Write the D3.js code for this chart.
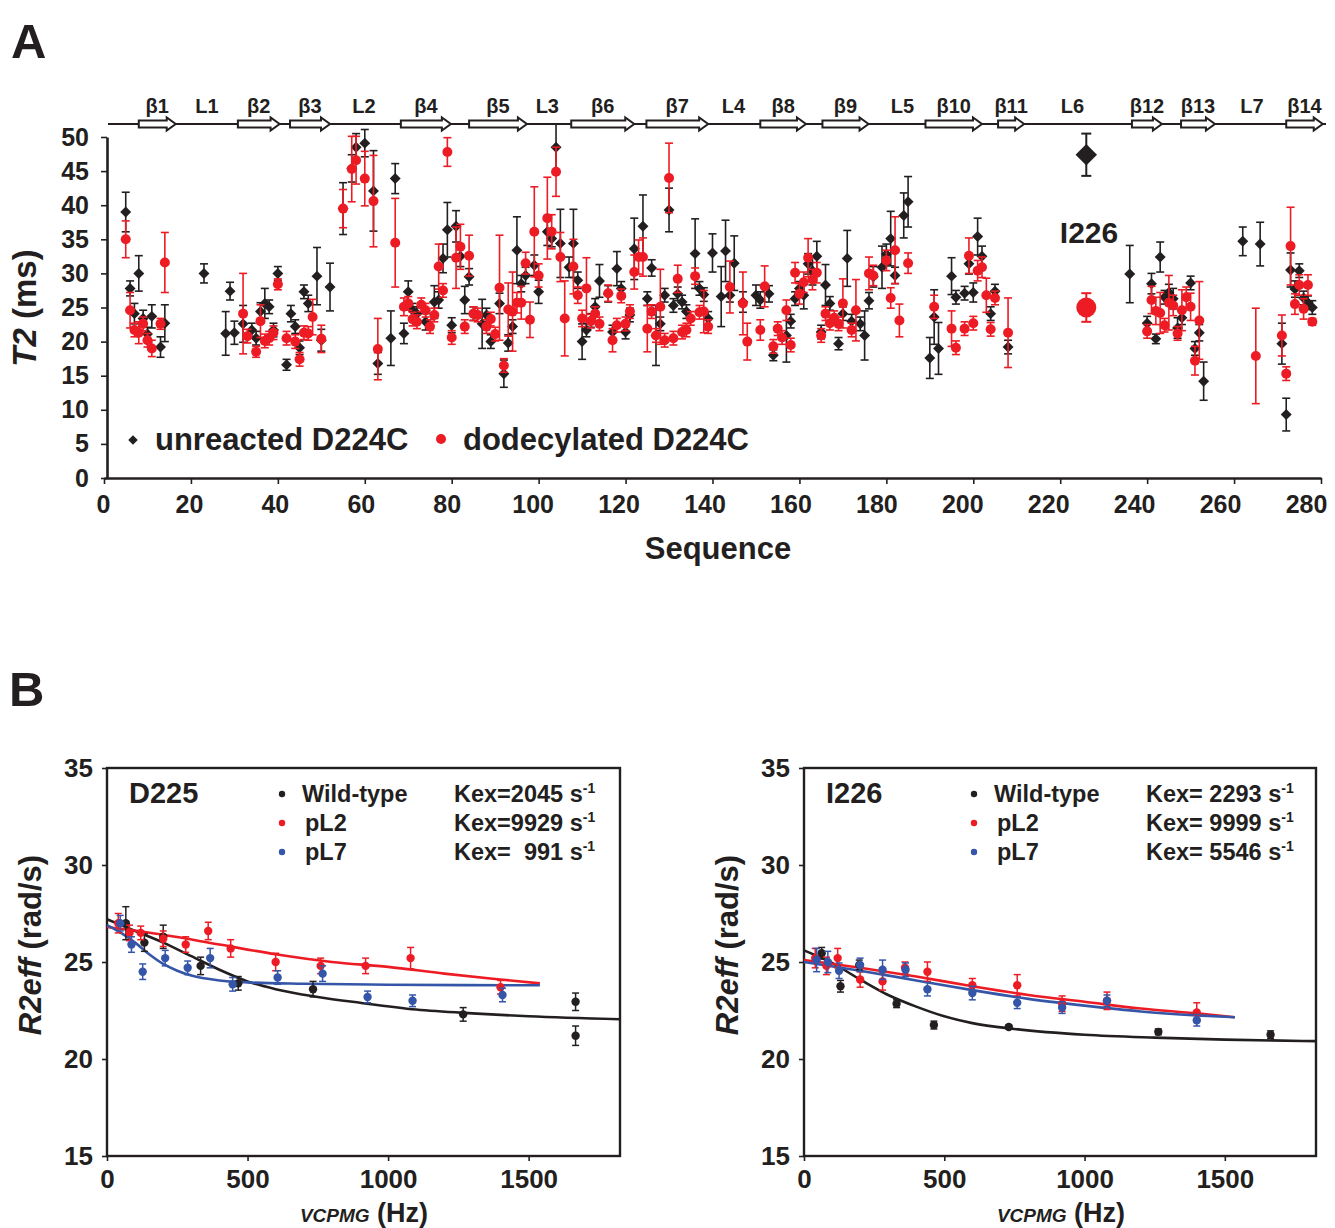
<!DOCTYPE html>
<html>
<head>
<meta charset="utf-8">
<script src="https://cdn.jsdelivr.net/npm/d3@7"></script>
<style>
body { margin: 0; background: #fff; }
text { font-family: "Liberation Sans", Arial, sans-serif; font-weight: bold; fill: #231f20; }
</style>
</head>
<body>
<div id="chart"></div>
<script>
// ---------------- Panel A: secondary structure ----------------
var strandNames = ["β1","β2","β3","β4","β5","β6","β7","β8","β9","β10","β11","β12","β13","β14"];
var strandStart = [8, 30.8, 42.8, 68.3, 84, 107.5, 124.8, 151, 165.3, 189, 205.7, 236.5, 247.8, 272];
var strandEnd   = [16.5, 40.4, 52, 79.8, 97.3, 122, 139, 161.5, 175.9, 202, 211.7, 243.4, 255.6, 280.4];
var loopNames = ["L1","L2","L3","L4","L5","L6","L7"];
var loopPos   = [23.7, 59.8, 102, 144.8, 183.7, 222.8, 264.1];

// ---------------- Panel A: T2 per residue ----------------
var unreactedSeq = [5,6,7,8,9,10,11,13,14,23,28,29,30,32,34,35,36,37,38,39,40,42,43,44,45,46,47,49,50,52,
  55,57,58,60,62,63,66,67,69,70,71,72,74,76,77,78,79,80,81,82,83,84,85,87,88,89,91,92,93,94,95,96,97,99,100,
  102,103,104,105,107,108,109,110,111,112,113,114,116,117,118,119,120,121,122,124,125,126,127,128,129,130,131,132,133,134,
  136,137,138,139,140,142,143,144,145,147,150,151,153,154,157,158,159,160,161,162,163,164,165,166,167,169,170,171,172,174,
  175,176,177,179,180,181,182,184,185,190,191,192,195,196,198,199,200,201,202,204,205,208,
  236,240,241,242,243,244,245,246,247,248,250,251,252,253,262,266,271,272,273,274,275,276,277,278];
var unreactedT2 = [39.0,27.8,24.1,30.0,23.4,21.1,23.7,19.2,22.7,30.0,21.2,27.4,21.3,22.6,21.7,20.5,24.4,25.6,25.1,21.7,30.0,16.6,24.1,22.2,19.1,27.3,25.6,29.6,20.2,28.0,
  39.5,45.4,48.5,49.1,42.1,16.8,20.5,43.9,21.2,27.3,24.6,24.1,22.9,25.8,26.1,32.2,36.4,22.4,36.9,32.5,26.1,29.5,24.1,22.6,23.9,20.0,25.6,15.3,19.8,22.2,33.4,28.5,29.7,31.2,27.3,
  36.1,35.1,48.5,34.4,30.9,34.4,29.0,20.0,21.7,23.1,25.1,28.9,27.0,21.4,30.7,27.8,21.4,23.9,33.6,36.9,26.3,30.8,20.9,22.6,26.8,39.3,25.3,27.0,25.8,24.4,
  32.9,27.8,26.9,23.4,33.0,26.6,33.3,26.8,31.5,25.8,26.8,26.1,27.0,18.0,20.9,23.0,26.3,27.8,26.8,31.4,30.4,32.5,21.4,28.3,25.6,19.7,24.1,32.2,23.0,22.6,
  20.9,26.0,29.5,30.9,32.8,35.1,29.7,38.5,40.5,17.6,23.6,19.0,29.6,26.5,27.1,31.4,27.2,35.4,32.5,24.1,27.4,19.2,
  29.9,22.7,28.5,20.4,32.4,26.5,27.2,26.3,22.0,23.5,28.6,19.0,21.3,14.2,34.7,34.3,19.7,9.3,30.5,27.7,30.4,26.4,25.7,25.0];
var unreactedErr = [2.9,1.1,1.5,2.6,1.2,1.0,1.7,1.5,2.7,1.4,3.2,1.3,1.7,2.7,1.0,1.0,1.3,2.2,1.0,1.0,1.0,0.8,1.2,1.0,1.0,1.0,1.2,4.2,1.6,3.5,
  3.8,2.0,2.0,2.0,5.9,1.6,4.0,2.2,1.5,1.6,1.0,1.0,1.2,2.4,1.2,2.1,4.0,1.1,2.3,1.5,2.0,1.2,1.0,3.6,1.0,1.0,1.5,2.0,1.2,1.0,4.9,1.2,1.2,1.5,1.7,
  2.0,1.2,3.4,5.0,1.5,5.0,1.2,2.6,1.0,1.0,1.2,2.4,1.2,1.0,2.5,1.0,1.0,1.0,4.5,4.6,1.0,1.2,4.4,1.0,1.0,3.2,1.0,1.0,1.0,1.0,
  5.1,1.0,1.0,1.0,2.8,4.4,4.5,1.0,4.0,1.5,1.5,1.2,1.2,0.8,3.9,1.0,1.0,1.0,2.0,1.5,2.1,2.2,1.0,3.0,1.0,0.9,1.0,4.1,1.0,1.0,
  3.6,1.2,1.5,3.1,1.5,4.0,1.2,3.3,3.7,3.0,4.0,3.8,2.7,1.0,1.0,1.5,1.4,2.7,1.5,1.0,1.0,1.0,
  4.2,1.0,1.5,0.7,2.2,1.0,1.2,1.5,1.5,1.0,1.0,1.0,1.2,2.8,2.1,3.2,3.0,2.4,2.5,1.2,1.0,1.0,1.0,1.0];

var dodecylSeq = [5,6,7,8,9,10,11,13,14,32,33,35,36,37,38,39,40,42,44,45,46,47,48,50,
  55,57,58,60,62,63,67,69,70,71,72,73,74,75,76,77,78,79,80,81,82,83,84,85,86,88,89,90,91,92,93,94,95,96,97,98,99,100,
  102,103,104,105,106,108,109,110,111,112,113,114,116,117,118,119,120,121,122,123,124,125,126,127,128,129,130,131,132,133,134,135,136,137,138,139,
  144,147,148,151,152,154,155,156,157,158,159,160,161,162,163,164,165,166,167,168,169,170,172,173,176,177,180,181,182,183,185,
  191,195,196,198,199,200,201,202,203,204,205,208,
  240,241,242,243,244,245,246,247,248,249,250,251,252,265,271,272,273,274,275,276,277,278];
var dodecylT2 = [35.0,24.6,21.7,21.3,22.6,20.2,19.0,22.6,31.6,24.1,20.8,18.5,23.0,20.1,20.5,21.3,28.4,20.5,20.0,17.4,21.3,21.2,23.6,20.4,
  39.5,45.3,46.6,43.9,40.6,18.9,34.5,25.1,25.6,23.3,22.9,25.4,24.6,22.2,23.9,31.0,27.5,47.8,20.6,32.3,33.9,22.2,32.6,24.1,23.9,22.2,23.3,21.1,27.9,16.5,24.7,24.4,25.7,25.7,31.5,23.2,36.1,29.7,
  38.1,36.1,44.9,32.4,23.4,31.0,26.8,23.4,27.8,23.0,24.1,22.6,27.1,20.2,22.4,26.7,22.6,24.4,30.2,32.4,32.4,21.9,24.4,20.9,25.1,20.2,44.0,20.5,29.2,21.4,21.7,23.4,29.6,24.3,24.4,22.2,
  28.0,25.6,20.0,21.7,28.1,19.3,21.9,20.6,24.6,19.5,30.1,27.0,28.7,32.3,29.1,30.1,20.9,24.1,22.7,23.5,22.6,25.6,21.7,24.6,30.0,29.7,31.9,26.4,33.4,23.1,31.5,
  25.1,21.9,19.1,21.9,32.6,22.7,30.4,30.9,26.8,21.8,26.4,21.3,
  21.5,26.1,24.5,24.2,22.4,25.7,25.3,21.2,24.6,26.5,25.1,17.2,23.1,17.9,20.9,15.3,34.0,25.5,28.3,24.8,28.3,22.9];
var dodecylErr = [2.7,2.6,1.0,1.6,1.0,1.0,1.2,0.8,4.4,5.9,1.0,0.8,2.4,1.0,1.0,1.0,0.8,1.0,1.0,1.0,1.0,1.0,2.6,2.0,
  2.8,4.8,3.5,4.0,6.7,4.5,6.5,1.3,1.0,1.0,1.0,1.0,1.0,1.0,1.0,3.3,1.0,2.1,1.0,4.5,3.3,1.0,3.0,1.0,1.0,1.0,1.0,1.0,7.7,1.0,3.9,5.8,1.5,2.4,1.6,2.6,6.6,1.7,
  6.0,2.5,3.6,3.6,5.5,4.0,1.2,1.2,4.5,1.0,1.0,1.0,1.2,1.7,1.0,1.0,1.0,1.0,2.5,2.5,2.8,3.4,1.0,1.0,5.5,1.0,5.1,1.0,2.0,1.0,1.0,1.0,1.2,1.0,3.1,1.0,
  3.8,4.6,2.7,1.5,3.0,1.0,1.0,1.0,1.5,1.0,1.5,1.5,1.5,2.8,1.5,1.5,1.0,1.0,1.0,1.0,1.0,3.6,1.0,4.5,2.4,1.5,1.5,1.5,4.9,2.4,1.5,
  1.7,2.6,1.0,1.0,2.6,1.0,1.5,1.5,2.5,1.0,1.0,5.1,
  1.0,2.0,2.0,3.0,1.0,4.0,1.5,1.0,3.0,1.5,2.0,2.1,5.7,7.0,3.0,1.0,5.7,1.5,1.5,1.5,1.5,0.5];

// highlighted residue I226
var highlightSeq = 226;
var highlightUnreacted = [47.4, 3.1];
var highlightDodecyl = [25.0, 2.1];

// ---------------- Panel B: relaxation dispersion ----------------
var d225WtHz  = [67, 133, 200, 333, 467, 733, 1267, 1667, 1667];
var d225WtR2  = [27.0, 26.0, 26.3, 24.8, 23.9, 23.6, 22.3, 22.95, 21.2];
var d225WtErr = [0.85, 0.45, 0.6, 0.45, 0.35, 0.4, 0.35, 0.45, 0.5];
var d225L2Hz  = [40, 80, 120, 200, 280, 360, 440, 600, 760, 920, 1080, 1400];
var d225L2R2  = [27.0, 26.5, 26.5, 26.2, 25.9, 26.6, 25.7, 25.0, 24.8, 24.8, 25.2, 23.7];
var d225L2Err = [0.5, 0.4, 0.35, 0.4, 0.4, 0.45, 0.45, 0.45, 0.4, 0.4, 0.55, 0.35];
var d225L7Hz  = [47, 87, 127, 207, 287, 367, 447, 607, 767, 927, 1087, 1407];
var d225L7R2  = [27.0, 25.9, 24.5, 25.2, 24.7, 25.2, 23.85, 24.2, 24.4, 23.2, 23.0, 23.3];
var d225L7Err = [0.4, 0.4, 0.4, 0.4, 0.35, 0.5, 0.35, 0.35, 0.4, 0.3, 0.3, 0.35];
// fitted curves
var d225WtFitHz = [0, 100, 200, 300, 400, 500, 600, 750, 900, 1100, 1300, 1500, 1825];
var d225WtFitR2 = [27.2, 26.6, 26.0, 25.3, 24.6, 24.0, 23.6, 23.2, 22.9, 22.55, 22.35, 22.2, 22.05];
var d225L2FitHz = [0, 200, 400, 600, 800, 1000, 1200, 1400, 1540];
var d225L2FitR2 = [26.8, 26.4, 25.9, 25.4, 25.0, 24.75, 24.4, 24.1, 23.9];
var d225L7FitHz = [0, 50, 100, 150, 200, 250, 300, 400, 500, 700, 1000, 1540];
var d225L7FitR2 = [26.9, 26.5, 26.0, 25.4, 24.9, 24.55, 24.3, 24.05, 23.95, 23.88, 23.83, 23.8];

var i226WtHz  = [63, 130, 197, 330, 463, 730, 1263, 1663];
var i226WtR2  = [25.45, 23.75, 24.85, 22.85, 21.75, 21.65, 21.4, 21.25];
var i226WtErr = [0.3, 0.3, 0.25, 0.2, 0.2, 0.1, 0.15, 0.2];
var i226L2Hz  = [40, 80, 120, 200, 280, 360, 440, 600, 760, 920, 1080, 1400];
var i226L2R2  = [25.2, 24.8, 25.2, 24.1, 24.0, 24.7, 24.5, 23.8, 23.8, 22.85, 23.0, 22.4];
var i226L2Err = [0.5, 0.45, 0.5, 0.4, 0.45, 0.3, 0.5, 0.35, 0.55, 0.4, 0.45, 0.5];
var i226L7Hz  = [45, 85, 125, 200, 280, 362, 440, 600, 760, 920, 1080, 1400];
var i226L7R2  = [25.1, 25.0, 24.55, 24.85, 24.6, 24.6, 23.6, 23.4, 22.9, 22.65, 23.0, 22.0];
var i226L7Err = [0.6, 0.55, 0.4, 0.35, 0.5, 0.35, 0.35, 0.35, 0.3, 0.3, 0.3, 0.3];
var i226WtFitHz = [0, 100, 200, 300, 400, 500, 600, 750, 1000, 1250, 1500, 1825];
var i226WtFitR2 = [25.6, 24.95, 24.1, 23.3, 22.7, 22.2, 21.85, 21.55, 21.25, 21.1, 21.0, 20.92];
var i226L2FitHz = [0, 200, 400, 600, 800, 1000, 1200, 1400, 1536];
var i226L2FitR2 = [25.1, 24.7, 24.25, 23.75, 23.3, 22.95, 22.6, 22.35, 22.15];
var i226L7FitHz = [0, 200, 400, 600, 800, 1000, 1200, 1400, 1536];
var i226L7FitR2 = [25.0, 24.55, 24.05, 23.55, 23.1, 22.75, 22.45, 22.25, 22.15];

var black = "#231f20", red = "#ed1c24", blue = "#3556a8";

function zip3(a, b, c) { return a.map(function (v, i) { return {x: v, y: b[i], e: c ? c[i] : 0}; }); }
function zip2(a, b) { return a.map(function (v, i) { return {x: v, y: b[i]}; }); }

var svg = d3.select("#chart").append("svg")
    .attr("width", 1335)
    .attr("height", 1228);

// panel letters
svg.append("text").attr("x", 11).attr("y", 58).style("font-size", "49px").text("A");
svg.append("text").attr("x", 9).attr("y", 706).style("font-size", "49px").text("B");

// ======================= Panel A =======================
var xA = d3.scaleLinear().domain([0, 280]).range([104, 1321]);
var yA = d3.scaleLinear().domain([0, 50]).range([478, 137]);

// secondary structure track
var ssY = 124;
svg.append("line")
    .attr("x1", 108).attr("x2", 1326)
    .attr("y1", ssY).attr("y2", ssY)
    .attr("stroke", black).attr("stroke-width", 2.2);

var strands = strandNames.map(function (n, i) { return {name: n, s: strandStart[i], e: strandEnd[i]}; });
svg.append("g").selectAll("polygon")
  .data(strands)
  .enter()
  .append("polygon")
    .attr("points", function (d) {
      var a = xA(d.s), b = xA(d.e), h = 9;
      return [[a, ssY - 3.5], [b - h, ssY - 3.5], [b - h, ssY - 6.5], [b, ssY],
              [b - h, ssY + 6.5], [b - h, ssY + 3.5], [a, ssY + 3.5]].join(" ");
    })
    .attr("fill", "#fff")
    .attr("stroke", black)
    .attr("stroke-width", 2);

svg.append("g").selectAll("text")
  .data(strands)
  .enter()
  .append("text")
    .attr("x", function (d) { return xA((d.s + d.e) / 2); })
    .attr("y", 113)
    .attr("text-anchor", "middle")
    .style("font-size", "20px")
    .text(function (d) { return d.name; });

svg.append("g").selectAll("text")
  .data(loopNames)
  .enter()
  .append("text")
    .attr("x", function (d, i) { return xA(loopPos[i]); })
    .attr("y", 113)
    .attr("text-anchor", "middle")
    .style("font-size", "20px")
    .text(function (d) { return d; });

// axes
var axA = svg.append("g");
var xAxisA = axA.append("g")
    .attr("transform", "translate(0,478)")
    .call(d3.axisBottom(xA).tickValues(d3.range(0, 281, 20)).tickSize(6).tickSizeOuter(0).tickPadding(11));
// labels in the original sit slightly left of their ticks, more so to the right
xAxisA.selectAll(".tick text").attr("x", function (d) { return -1 - d / 20; });
axA.append("g")
    .attr("transform", "translate(107,0)")
    .call(d3.axisLeft(yA).tickValues(d3.range(0, 51, 5)).tickSize(6).tickSizeOuter(0).tickPadding(12));
axA.selectAll(".domain").attr("stroke", black).attr("stroke-width", 2.6);
axA.selectAll(".tick line").attr("stroke", black).attr("stroke-width", 1.6);
axA.selectAll(".tick text").style("font-size", "25px").attr("fill", black)
    .style("font-family", "'Liberation Sans', Arial, sans-serif");

// axis titles
svg.append("text")
    .attr("x", 718).attr("y", 559)
    .attr("text-anchor", "middle")
    .style("font-size", "31px")
    .text("Sequence");
var yTitleA = svg.append("text")
    .attr("transform", "translate(36,308) rotate(-90)")
    .attr("text-anchor", "middle")
    .style("font-size", "33px");
yTitleA.append("tspan").style("font-style", "italic").text("T2");
yTitleA.append("tspan").text(" (ms)");

// data
var unreacted = zip3(unreactedSeq, unreactedT2, unreactedErr);
var dodecyl = zip3(dodecylSeq, dodecylT2, dodecylErr);

function errorBars(g, data, x, y, color, cap, sw) {
  var eg = g.append("g").attr("stroke", color).attr("stroke-width", sw);
  eg.selectAll(".v").data(data).enter().append("line")
      .attr("x1", function (d) { return x(d.x); })
      .attr("x2", function (d) { return x(d.x); })
      .attr("y1", function (d) { return y(d.y - d.e); })
      .attr("y2", function (d) { return y(d.y + d.e); });
  eg.selectAll(".t").data(data).enter().append("line")
      .attr("x1", function (d) { return x(d.x) - cap; })
      .attr("x2", function (d) { return x(d.x) + cap; })
      .attr("y1", function (d) { return y(d.y + d.e); })
      .attr("y2", function (d) { return y(d.y + d.e); });
  eg.selectAll(".b").data(data).enter().append("line")
      .attr("x1", function (d) { return x(d.x) - cap; })
      .attr("x2", function (d) { return x(d.x) + cap; })
      .attr("y1", function (d) { return y(d.y - d.e); })
      .attr("y2", function (d) { return y(d.y - d.e); });
}

var diamond = d3.symbol().type(d3.symbolSquare).size(60);
var gData = svg.append("g");
errorBars(gData, unreacted, xA, yA, black, 4, 1.6);
gData.append("g").selectAll("path")
  .data(unreacted)
  .enter()
  .append("path")
    .attr("d", diamond)
    .attr("transform", function (d) { return "translate(" + xA(d.x) + "," + yA(d.y) + ") rotate(45)"; })
    .attr("fill", black);
errorBars(gData, dodecyl, xA, yA, red, 4, 1.6);
gData.append("g").selectAll("circle")
  .data(dodecyl)
  .enter()
  .append("circle")
    .attr("cx", function (d) { return xA(d.x); })
    .attr("cy", function (d) { return yA(d.y); })
    .attr("r", 5)
    .attr("fill", red);

// I226 highlight
var hl = [{x: highlightSeq, y: highlightUnreacted[0], e: highlightUnreacted[1]}];
var hr = [{x: highlightSeq, y: highlightDodecyl[0], e: highlightDodecyl[1]}];
errorBars(gData, hl, xA, yA, black, 5, 2);
gData.append("path")
    .attr("d", d3.symbol().type(d3.symbolSquare).size(230))
    .attr("transform", "translate(" + xA(hl[0].x) + "," + yA(hl[0].y) + ") rotate(45)")
    .attr("fill", black);
errorBars(gData, hr, xA, yA, red, 5, 2);
gData.append("circle")
    .attr("cx", xA(hr[0].x)).attr("cy", yA(hr[0].y)).attr("r", 10).attr("fill", red);
svg.append("text")
    .attr("x", 1089).attr("y", 243)
    .attr("text-anchor", "middle")
    .style("font-size", "30px")
    .text("I226");

// legend
svg.append("path")
    .attr("d", d3.symbol().type(d3.symbolSquare).size(45))
    .attr("transform", "translate(133,440) rotate(45)")
    .attr("fill", black);
svg.append("text").attr("x", 155).attr("y", 450).style("font-size", "31px").text("unreacted D224C");
svg.append("circle").attr("cx", 441).attr("cy", 439).attr("r", 5).attr("fill", red);
svg.append("text").attr("x", 463).attr("y", 450).style("font-size", "31px").text("dodecylated D224C");

// ======================= Panel B =======================
var yB = d3.scaleLinear().domain([15, 35]).range([1156, 768]);

function drawPanel(left, right, title, series, kex, legX) {
  var x = d3.scaleLinear().domain([0, 1825]).range([left, right]);
  var g = svg.append("g");

  // frame
  g.append("rect")
      .attr("x", left).attr("y", 768)
      .attr("width", right - left).attr("height", 1156 - 768)
      .attr("fill", "none").attr("stroke", black).attr("stroke-width", 2.4);

  var ax = g.append("g");
  ax.append("g")
      .attr("transform", "translate(0,1156)")
      .call(d3.axisBottom(x).tickValues([0, 500, 1000, 1500]).tickFormat(d3.format("d"))
        .tickSize(5).tickSizeOuter(0).tickPadding(9));
  ax.append("g")
      .attr("transform", "translate(" + left + ",0)")
      .call(d3.axisLeft(yB).tickValues([15, 20, 25, 30, 35]).tickSize(5).tickSizeOuter(0).tickPadding(9));
  ax.selectAll(".domain").remove();
  ax.selectAll(".tick line").attr("stroke", black).attr("stroke-width", 1.6);
  ax.selectAll(".tick text").style("font-size", "26px").attr("fill", black)
      .style("font-family", "'Liberation Sans', Arial, sans-serif");

  // axis titles
  var yt = g.append("text")
      .attr("transform", "translate(" + (left - 66) + ",945) rotate(-90)")
      .attr("text-anchor", "middle")
      .style("font-size", "31px");
  yt.append("tspan").style("font-style", "italic").text("R2eff");
  yt.append("tspan").text(" (rad/s)");
  var xt = g.append("text")
      .attr("x", left + 257).attr("y", 1222)
      .attr("text-anchor", "middle");
  xt.append("tspan").style("font-style", "italic").style("font-size", "19px").text("VCPMG");
  xt.append("tspan").style("font-size", "27px").text(" (Hz)");

  // fitted lines and points
  var line = d3.line()
      .x(function (d) { return x(d.x); })
      .y(function (d) { return yB(d.y); })
      .curve(d3.curveMonotoneX);
  series.forEach(function (s) {
    g.append("path")
        .datum(s.fit)
        .attr("d", line)
        .attr("fill", "none")
        .attr("stroke", s.color)
        .attr("stroke-width", 2.6);
  });
  series.forEach(function (s) {
    errorBars(g, s.pts, x, yB, s.color, 3.5, 1.5);
    g.append("g").selectAll("circle")
      .data(s.pts)
      .enter()
      .append("circle")
        .attr("cx", function (d) { return x(d.x); })
        .attr("cy", function (d) { return yB(d.y); })
        .attr("r", 4.2)
        .attr("fill", s.color);
  });

  // legend
  g.append("text").attr("x", left + 22).attr("y", 803).style("font-size", "29px").text(title);
  var names = ["Wild-type", "pL2", "pL7"];
  var ly = [802, 831, 860];
  series.forEach(function (s, i) {
    g.append("circle").attr("cx", legX).attr("cy", ly[i] - 8).attr("r", 3.2).attr("fill", s.color);
    g.append("text").attr("x", legX + (i === 0 ? 20 : 23)).attr("y", ly[i])
        .style("font-size", "23.5px").text(names[i]);
    var kt = g.append("text").attr("x", legX + 172).attr("y", ly[i]).style("font-size", "23.5px");
    kt.append("tspan").text(kex[i]);
    kt.append("tspan").attr("dy", -9).style("font-size", "14px").text("-1");
  });
}

drawPanel(107, 620, "D225", [
  {color: black, pts: zip3(d225WtHz, d225WtR2, d225WtErr), fit: zip2(d225WtFitHz, d225WtFitR2)},
  {color: red,   pts: zip3(d225L2Hz, d225L2R2, d225L2Err), fit: zip2(d225L2FitHz, d225L2FitR2)},
  {color: blue,  pts: zip3(d225L7Hz, d225L7R2, d225L7Err), fit: zip2(d225L7FitHz, d225L7FitR2)}
], ["Kex=2045 s", "Kex=9929 s", "Kex=\u00a0 991 s"], 282);

drawPanel(804, 1316, "I226", [
  {color: black, pts: zip3(i226WtHz, i226WtR2, i226WtErr), fit: zip2(i226WtFitHz, i226WtFitR2)},
  {color: red,   pts: zip3(i226L2Hz, i226L2R2, i226L2Err), fit: zip2(i226L2FitHz, i226L2FitR2)},
  {color: blue,  pts: zip3(i226L7Hz, i226L7R2, i226L7Err), fit: zip2(i226L7FitHz, i226L7FitR2)}
], ["Kex= 2293 s", "Kex= 9999 s", "Kex= 5546 s"], 974);
</script>
</body>
</html>
